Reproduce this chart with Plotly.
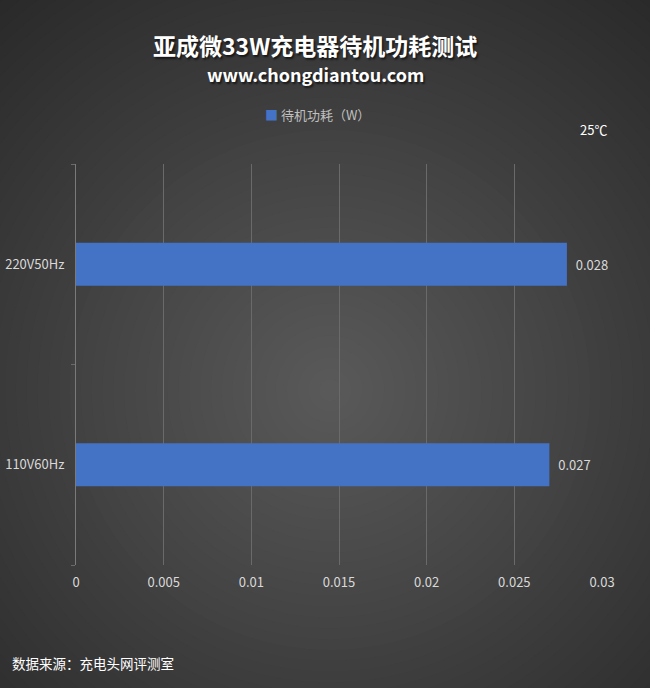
import plotly.graph_objects as go

# chart data
categories = ["110V60Hz", "220V50Hz"]
standby_w = [0.027, 0.028]
series_name = "待机功耗（W）"
x_ticks = [0, 0.005, 0.01, 0.015, 0.02, 0.025, 0.03]
x_tick_labels = ["0", "0.005", "0.01", "0.015", "0.02", "0.025", "0.03"]

title_text = "亚成微33W充电器待机功耗测试"
subtitle_text = "www.chongdiantou.com"
temp_text = "25℃"
source_text = "数据来源：充电头网评测室"

FONT = "Noto Sans CJK SC"
BAR_COLOR = "#4472C4"
W, H = 650, 688
L, R, T, B = 76, 48, 164, 123
PW, PH = W - L - R, H - T - B


def px_x(px):
    return (px - L) / PW


def px_y(py):
    return (H - B - py) / PH


fig = go.Figure()
fig.add_trace(go.Bar(
    y=categories,
    x=standby_w,
    orientation="h",
    name=series_name,
    marker=dict(color=BAR_COLOR, line=dict(width=0)),
    texttemplate="\u00a0\u00a0%{x}",
    textposition="outside",
    textfont=dict(color="#d9d9d9", size=13, family=FONT),
    cliponaxis=False,
    showlegend=False,
))

# radial background gradient (Excel-like)
shapes = []
cx, cy = 330, 390
rmax = 520
n = 48
c_out, c_in = 0x29, 0x59
for i in range(n):
    r = rmax * (1 - i / n)
    t = i / (n - 1)
    c = round(c_out + (c_in - c_out) * t)
    shapes.append(dict(
        type="circle", xref="paper", yref="paper", layer="below",
        x0=px_x(cx - r), x1=px_x(cx + r), y0=px_y(cy + r), y1=px_y(cy - r),
        fillcolor=f"rgb({c},{c},{c})", line=dict(width=0),
    ))


def label(text, x, y, size, color, xanchor="center", shadow="none"):
    return dict(text=text, x=px_x(x), y=px_y(y), xref="paper", yref="paper",
                xanchor=xanchor, yanchor="middle", showarrow=False,
                font=dict(size=size, color=color, family=FONT, shadow=shadow))


SHADOW = "1.5px 1.5px 2px rgba(0,0,0,0.6)"
annotations = [
    label(f"<b>{title_text}</b>", 315, 45, 23, "#ffffff", shadow=SHADOW),
    label(f"<b>{subtitle_text}</b>", 315, 74, 18, "#ffffff", shadow=SHADOW),
    label(f"<span style='color:{BAR_COLOR}'>■</span>\u00a0{series_name}",
          263, 115, 13, "#bfbfbf", xanchor="left"),
    label(temp_text, 593, 130, 13, "#ffffff"),
    label(source_text, 10, 663, 13.5, "#ffffff", xanchor="left"),
]

fig.update_layout(
    width=W, height=H,
    margin=dict(l=L, r=R, t=T, b=B),
    paper_bgcolor="#272727",
    plot_bgcolor="rgba(0,0,0,0)",
    font=dict(family=FONT, color="#d9d9d9", size=13),
    bargap=0.786,
    showlegend=False,
    shapes=shapes,
    annotations=annotations,
    xaxis=dict(
        range=[0, 0.03], tickvals=x_ticks, ticktext=x_tick_labels,
        showgrid=True, gridcolor="#6a6a6a", gridwidth=1, zeroline=False,
        showline=False, ticks="", tickfont=dict(size=13, color="#d9d9d9"),
        ticklabelstandoff=8, automargin=False,
    ),
    yaxis=dict(
        categoryorder="array", categoryarray=categories,
        showgrid=False, zeroline=False, showline=True, linecolor="#7a7a7a", linewidth=1,
        ticks="outside", tickson="boundaries", ticklen=4, tickcolor="#6a6a6a",
        tickfont=dict(size=13, color="#d9d9d9"), ticklabelstandoff=8, automargin=False,
    ),
)

fig.write_html("out.html", config={"displayModeBar": False},
               post_script="document.body.style.margin='0';")
